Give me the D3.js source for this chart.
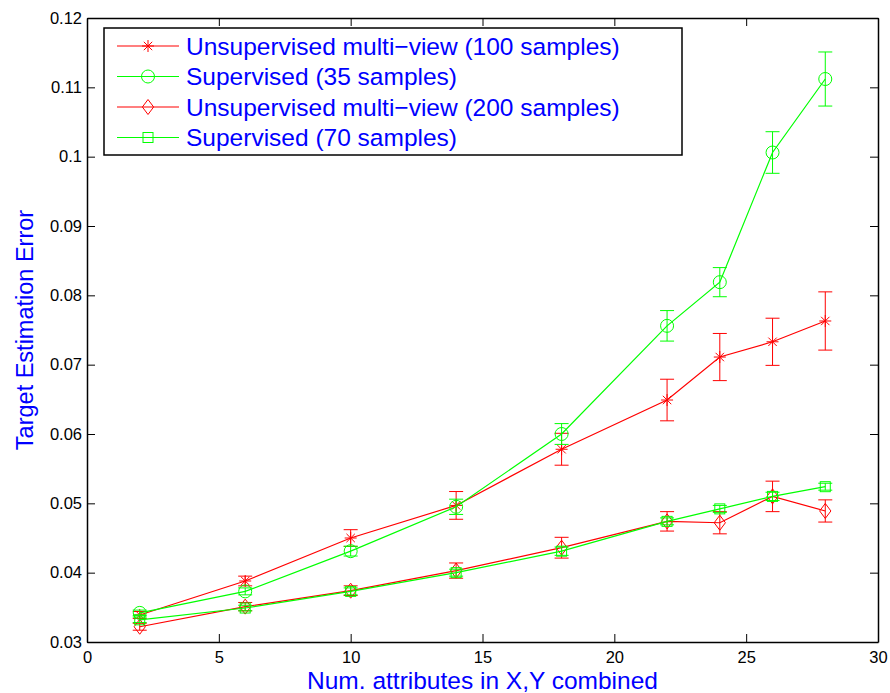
<!DOCTYPE html>
<html>
<head>
<meta charset="utf-8">
<script src="https://cdn.jsdelivr.net/npm/d3@7"></script>
<style>
    body { margin: 0; background: #fff; }
    svg { display: block; font-family: "Liberation Sans", Arial, sans-serif; }
</style>
</head>
<body>
<svg id="chart" width="890" height="693"></svg>
<script>
const xValues = [2, 6, 10, 14, 18, 22, 24, 26, 28]

const unsup100 = [0.0339, 0.0388, 0.0450, 0.0497, 0.0578, 0.0649, 0.0711, 0.0733, 0.0763]
const unsup100Err = [0.0005, 0.0007, 0.0012, 0.0020, 0.0023, 0.0030, 0.0034, 0.0034, 0.0042]

const sup35 = [0.0342, 0.0373, 0.0431, 0.0495, 0.0600, 0.0756, 0.0819, 0.1006, 0.1112]
const sup35Err = [0.0004, 0.0005, 0.0007, 0.0011, 0.0015, 0.0022, 0.0021, 0.0030, 0.0039]

const unsup200 = [0.0322, 0.0351, 0.0374, 0.0403, 0.0436, 0.0474, 0.0472, 0.0510, 0.0489]
const unsup200Err = [0.0005, 0.0006, 0.0007, 0.0011, 0.0015, 0.0014, 0.0016, 0.0022, 0.0016]

const sup70 = [0.0332, 0.0349, 0.0373, 0.0400, 0.0431, 0.0474, 0.0492, 0.0510, 0.0524]
const sup70Err = [0.0004, 0.0004, 0.0005, 0.0005, 0.0006, 0.0005, 0.0005, 0.0006, 0.0005]

const seriesNames = [
    "Unsupervised multi\u2212view (100 samples)",
    "Supervised (35 samples)",
    "Unsupervised multi\u2212view (200 samples)",
    "Supervised (70 samples)",
]

const xTicks = [0, 5, 10, 15, 20, 25, 30]
const yTicks = [0.03, 0.04, 0.05, 0.06, 0.07, 0.08, 0.09, 0.1, 0.11, 0.12]

const series = [
    {name: seriesNames[0], values: unsup100, err: unsup100Err, color: "#ff0000", marker: "star"},
    {name: seriesNames[1], values: sup35, err: sup35Err, color: "#00ff00", marker: "circle"},
    {name: seriesNames[2], values: unsup200, err: unsup200Err, color: "#ff0000", marker: "diamond"},
    {name: seriesNames[3], values: sup70, err: sup70Err, color: "#00ff00", marker: "square"},
]

const box = {left: 87, right: 878, top: 18, bottom: 642}

const svg = d3.select("#chart")

const x = d3.scaleLinear().domain([0, 30]).range([box.left, box.right])
const y = d3.scaleLinear().domain([0.03, 0.12]).range([box.bottom, box.top])

// draws a marker centred on 0,0
const drawMarker = (g, kind, color) => {
    if (kind === "star") {
        const r = 6
        g.append("path")
            .attr("d", `M${-r},0H${r}M0,${-r}V${r}M${-r * 0.7},${-r * 0.7}L${r * 0.7},${r * 0.7}M${-r * 0.7},${r * 0.7}L${r * 0.7},${-r * 0.7}`)
            .attr("stroke", color).attr("fill", "none")
    } else if (kind === "circle") {
        g.append("circle").attr("r", 6.5)
            .attr("stroke", color).attr("fill", "none")
    } else if (kind === "diamond") {
        const r = 7.5
        g.append("path")
            .attr("d", `M0,${-r}L${r * 0.75},0L0,${r}L${-r * 0.75},0Z`)
            .attr("stroke", color).attr("fill", "none")
    } else if (kind === "square") {
        g.append("rect").attr("x", -5).attr("y", -5).attr("width", 10).attr("height", 10)
            .attr("stroke", color).attr("fill", "none")
    }
}

// axes box with inward ticks on all sides
const axes = svg.append("g")

axes.append("g")
    .attr("transform", `translate(0,${box.bottom})`)
    .call(d3.axisBottom(x).tickValues(xTicks).tickSizeInner(-8).tickSizeOuter(0).tickPadding(9).tickFormat(d3.format("d")))
axes.append("g")
    .attr("transform", `translate(0,${box.top})`)
    .call(d3.axisTop(x).tickValues(xTicks).tickSizeInner(-8).tickSizeOuter(0).tickFormat(""))
axes.append("g")
    .attr("transform", `translate(${box.left},0)`)
    .call(d3.axisLeft(y).tickValues(yTicks).tickSizeInner(-8).tickSizeOuter(0).tickPadding(5).tickFormat(d => String(+d.toFixed(2))))
axes.append("g")
    .attr("transform", `translate(${box.right},0)`)
    .call(d3.axisRight(y).tickValues(yTicks).tickSizeInner(-8).tickSizeOuter(0).tickFormat(""))

axes.selectAll(".domain").attr("stroke", "#000").attr("stroke-width", 1.5)
axes.selectAll(".tick line").attr("stroke", "#000")
axes.selectAll(".tick text").attr("font-size", 16.5).attr("fill", "#000")
    .attr("font-family", "Liberation Sans, Arial, sans-serif")

// data
const plot = svg.append("g")
const line = d3.line().x((d, i) => x(xValues[i])).y(d => y(d))

series.forEach(s => {
    const g = plot.append("g")

    s.values.forEach((v, i) => {
        const cx = x(xValues[i])
        const e = s.err[i]
        g.append("path")
            .attr("d", `M${cx},${y(v + e)}V${y(v - e)}M${cx - 7},${y(v + e)}H${cx + 7}M${cx - 7},${y(v - e)}H${cx + 7}`)
            .attr("stroke", s.color).attr("fill", "none")
    })

    g.append("path")
        .attr("d", line(s.values))
        .attr("stroke", s.color).attr("stroke-width", 1.2).attr("fill", "none")

    s.values.forEach((v, i) => {
        const m = g.append("g").attr("transform", `translate(${x(xValues[i])},${y(v)})`)
        drawMarker(m, s.marker, s.color)
    })
})

// legend
const legend = svg.append("g").attr("transform", "translate(104,28)")
legend.append("rect")
    .attr("width", 578).attr("height", 127)
    .attr("fill", "#fff").attr("stroke", "#000").attr("stroke-width", 1.5)

series.forEach((s, i) => {
    const row = legend.append("g").attr("transform", `translate(0,${18 + i * 30.5})`)
    row.append("line").attr("x1", 13).attr("x2", 75)
        .attr("stroke", s.color).attr("stroke-width", 1.2)
    drawMarker(row.append("g").attr("transform", "translate(44,0)"), s.marker, s.color)
    row.append("text")
        .attr("x", 82).attr("y", 0).attr("dy", "0.35em")
        .attr("font-size", 24.5).attr("fill", "#0000ff")
        .text(s.name)
})

// axis labels
svg.append("text")
    .attr("x", (box.left + box.right) / 2).attr("y", 689)
    .attr("text-anchor", "middle")
    .attr("font-size", 24.5).attr("fill", "#0000ff")
    .text("Num. attributes in X,Y combined")

svg.append("text")
    .attr("transform", `translate(33,${(box.top + box.bottom) / 2}) rotate(-90)`)
    .attr("text-anchor", "middle")
    .attr("font-size", 23.5).attr("fill", "#0000ff")
    .text("Target Estimation Error")
</script>
</body>
</html>
